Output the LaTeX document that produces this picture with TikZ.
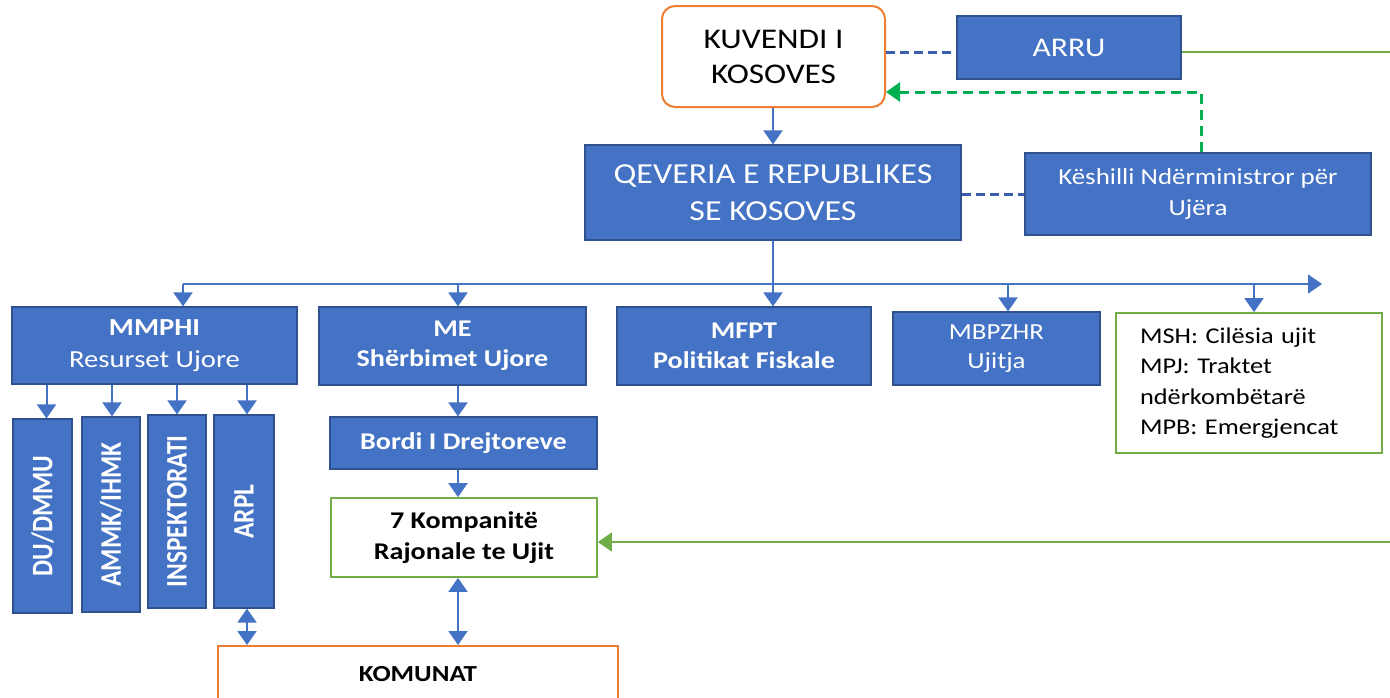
\documentclass[tikz,border=0pt]{standalone}
\usepackage{fontspec}
\setmainfont{Carlito}[FakeStretch=1.17]
\newfontfamily\vfont{Carlito}
\usepackage{graphicx}
\usetikzlibrary{arrows.meta,calc}
\definecolor{bfill}{HTML}{4472C4}
\definecolor{bline}{HTML}{2F528F}
\definecolor{gline}{HTML}{70AD47}
\definecolor{gdash}{HTML}{00B050}
\definecolor{oline}{HTML}{ED7D31}
\definecolor{dblue}{HTML}{3A5DAE}
\newcommand{\vtext}[1]{\rotatebox{90}{\scalebox{1}[1.17]{\vfont\bfseries\fontsize{25.5}{30}\selectfont #1}}}
\begin{document}
\begin{tikzpicture}[x=1pt,y=-1pt,
  bbox/.style={draw=bline, line width=1.2pt, fill=bfill, text=white, inner sep=0pt, align=center},
  wbox/.style={fill=white, inner sep=0pt, align=center, text=black},
  tip/.style={Triangle[width=19pt,length=14pt]},
  arr/.style={draw=bfill, line width=2pt, -{Triangle[width=19pt,length=14pt]}},
  darr/.style={draw=bfill, line width=2pt, {Triangle[width=19pt,length=14pt]}-{Triangle[width=19pt,length=14pt]}},
  bdash/.style={draw=dblue, line width=3pt, dash pattern=on 9pt off 5pt},
  gdashed/.style={draw=gdash, line width=3pt, dash pattern=on 10pt off 6pt, -{Triangle[width=19pt,length=14pt]}},
  gsolid/.style={draw=gline, line width=1.8pt},
  garr/.style={draw=gline, line width=1.8pt, -{Triangle[width=19pt,length=14pt]}},
  big/.style={font=\fontsize{29}{36.5}\selectfont},
  mid/.style={font=\bfseries\fontsize{24}{30}\selectfont},
]
\useasboundingbox[fill=white] (0,0) rectangle (1390,697);

% top level
\node[wbox, draw=oline, line width=2pt, rounded corners=13pt, minimum width=223pt, minimum height=101pt, font=\fontsize{28.5}{35}\selectfont] (kuv) at (773.5,56.5) {KUVENDI I\\KOSOVES};
\node[bbox, minimum width=224pt, minimum height=63pt, font=\fontsize{27}{30}\selectfont] (arru) at (1069,47.5) {ARRU};
\node[bbox, minimum width=376pt, minimum height=95pt, big] (qev) at (773,192.5) {QEVERIA E REPUBLIKES\\SE KOSOVES};
\node[bbox, minimum width=346pt, minimum height=82pt, font=\fontsize{23}{31}\selectfont] (kes) at (1198,194) {Këshilli Ndërministror për\\Ujëra};

% ministries
\node[bbox, minimum width=285pt, minimum height=77pt, font=\fontsize{24.5}{32}\selectfont] (mmphi) at (154.5,345.5) {\textbf{MMPHI}\\Resurset Ujore};
\node[bbox, minimum width=267pt, minimum height=78pt, mid] (me) at (452.5,346) {ME\\Shërbimet Ujore};
\node[bbox, minimum width=254pt, minimum height=78pt, mid] (mfpt) at (744,346) {MFPT\\Politikat Fiskale};
\node[bbox, minimum width=207pt, minimum height=73pt, font=\fontsize{23}{29}\selectfont] (mbp) at (996.5,348.5) {MBPZHR\\Ujitja};
\node[wbox, draw=gline, line width=1.8pt, minimum width=266pt, minimum height=140pt, text width=218pt, inner xsep=24pt, align=left, font=\fontsize{22.5}{30.5}\selectfont] (oth) at (1249,383) {MSH: Cilësia ujit\\MPJ: Traktet\\ndërkombëtarë\\MPB: Emergjencat};

% MMPHI agencies
\node[bbox, minimum width=59pt, minimum height=194pt] (du) at (42.5,516) {\vtext{DU/DMMU}};
\node[bbox, minimum width=58pt, minimum height=195pt] (ammk) at (111,514.5) {\vtext{AMMK/IHMK}};
\node[bbox, minimum width=58pt, minimum height=193pt] (insp) at (177,511.5) {\vtext{INSPEKTORATI}};
\node[bbox, minimum width=60pt, minimum height=193pt] (arpl) at (244,511.5) {\vtext{ARPL}};

% ME chain
\node[bbox, minimum width=267pt, minimum height=52pt, font=\bfseries\fontsize{24}{28}\selectfont] (bordi) at (463.5,443) {Bordi I Drejtoreve};
\node[wbox, draw=gline, line width=1.8pt, minimum width=266pt, minimum height=79pt, font=\bfseries\fontsize{24}{31}\selectfont] (k7) at (464,537.5) {7 Kompanitë\\Rajonale te Ujit};
\node[wbox, draw=oline, line width=2pt, minimum width=400pt, minimum height=64pt, font=\bfseries\fontsize{23}{28}\selectfont] (kom) at (418,678) {\raisebox{8pt}{KOMUNAT}};

% helper coordinates
\coordinate (edge0) at (1390,52);
\coordinate (edge1) at (1390,542);
\coordinate (gd) at (1201,92);
\coordinate (busL) at (183,284);
\coordinate (busM) at (773,284);
\coordinate (busR) at (1322,284);
\coordinate (b2) at (458,284);
\coordinate (b4) at (1008,284);
\coordinate (b5) at (1254,284);
\coordinate (mx) at (458,0);

% connectors top
\draw[bdash] (kuv.east |- edge0) -- (arru.west |- edge0);
\draw[gsolid] (arru.east |- edge0) -- (edge0);
\draw[gdashed] (kes.north -| gd) -- (gd) -- (gd -| kuv.east);
\draw[bdash] (qev.east |- kes.west) -- (kes.west);
\draw[arr] (kuv.south -| busM) -- (qev.north -| busM);
\draw[draw=bfill, line width=2pt] (qev.south -| busM) -- (busM);
\draw[arr] (busL) -- (busR);
\draw[arr] (busL) -- (busL |- mmphi.north);
\draw[arr] (b2) -- (b2 |- me.north);
\draw[arr] (busM) -- (busM |- mfpt.north);
\draw[arr] (b4) -- (b4 |- mbp.north);
\draw[arr] (b5) -- (b5 |- oth.north);

% MMPHI agencies arrows
\draw[arr] ([xshift=4pt]du.north |- mmphi.south) -- ([xshift=4pt]du.north);
\draw[arr] ([xshift=1pt]ammk.north |- mmphi.south) -- ([xshift=1pt]ammk.north);
\draw[arr] (insp.north |- mmphi.south) -- (insp.north);
\draw[arr] ([xshift=3pt]arpl.north |- mmphi.south) -- ([xshift=3pt]arpl.north);

% ME chain arrows
\draw[arr] (me.south -| mx) -- (bordi.north -| mx);
\draw[arr] (bordi.south -| mx) -- (k7.north -| mx);
\draw[darr] (k7.south -| mx) -- (kom.north -| mx);
\draw[darr] ([xshift=3pt]arpl.south) -- ([xshift=3pt]arpl.south |- kom.north);

% green feedback to companies
\draw[garr] (edge1) -- (edge1 -| k7.east);
\end{tikzpicture}
\end{document}
